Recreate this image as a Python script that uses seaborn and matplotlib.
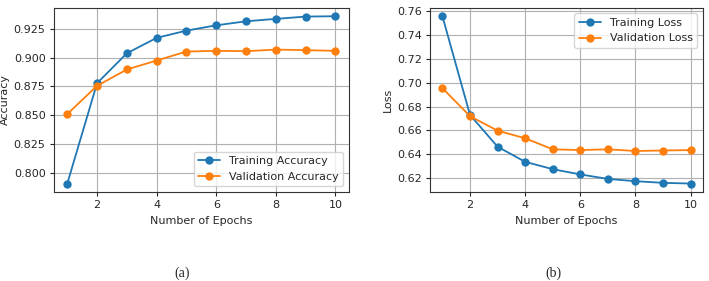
import pandas as pd
import numpy as np
import seaborn as sns
import matplotlib.pyplot as plt

epochs = [1, 2, 3, 4, 5, 6, 7, 8, 9, 10]
train_acc = [0.7905, 0.8778, 0.9038, 0.9172, 0.9235, 0.9281, 0.9316, 0.9337, 0.9357, 0.9360]
val_acc = [0.8509, 0.8755, 0.8897, 0.8975, 0.9053, 0.9059, 0.9056, 0.9070, 0.9065, 0.9059]
train_loss = [0.7560, 0.6730, 0.6462, 0.6335, 0.6273, 0.6229, 0.6191, 0.6172, 0.6158, 0.6152]
val_loss = [0.6955, 0.6719, 0.6597, 0.6533, 0.6440, 0.6434, 0.6440, 0.6426, 0.6430, 0.6434]

sns.set_theme(style="ticks", rc={"axes.grid": True, "grid.color": "#b0b0b0", "grid.linewidth": 0.8,
                                 "axes.edgecolor": "#333333", "axes.linewidth": 0.8})
plt.rcParams['font.family'] = ['DejaVu Sans']

acc = pd.DataFrame({"epoch": epochs * 2, "value": train_acc + val_acc,
                    "series": ["Training Accuracy"] * 10 + ["Validation Accuracy"] * 10})
loss = pd.DataFrame({"epoch": epochs * 2, "value": train_loss + val_loss,
                     "series": ["Training Loss"] * 10 + ["Validation Loss"] * 10})

fig = plt.figure(figsize=(7.09, 2.81), dpi=100)
ax1 = fig.add_axes([0.076, 0.317, 0.416, 0.655])
ax2 = fig.add_axes([0.6065, 0.317, 0.385, 0.655])

pal = ["#1f77b4", "#ff7f0e"]
for ax, df, ylab, loc in [(ax1, acc, "Accuracy", "lower right"), (ax2, loss, "Loss", "upper right")]:
    sns.lineplot(data=df, x="epoch", y="value", hue="series", palette=pal, marker="o",
                 markersize=6, markeredgewidth=0, linewidth=1.3, ax=ax)
    ax.set_xlabel("Number of Epochs", fontsize=8, labelpad=4)
    ax.set_ylabel(ylab, fontsize=8, labelpad=3)
    ax.tick_params(labelsize=8, length=3, width=0.8, pad=3)
    ax.set_xticks([2, 4, 6, 8, 10])
    ax.grid(True, color="#b0b0b0", linewidth=0.8)
    leg = ax.legend(loc=loc, fontsize=8, title=None, frameon=True, fancybox=True, framealpha=0.8,
                    edgecolor="#cccccc")

ax1.set_yticks([0.800, 0.825, 0.850, 0.875, 0.900, 0.925])
ax1.set_yticklabels(["0.800", "0.825", "0.850", "0.875", "0.900", "0.925"])
ax2.set_yticks([0.62, 0.64, 0.66, 0.68, 0.70, 0.72, 0.74, 0.76])

fig.text(182 / 709, 1 - 273 / 281, "(a)", fontsize=10, family="Liberation Serif", ha="center", va="center")
fig.text(553 / 709, 1 - 273 / 281, "(b)", fontsize=10, family="Liberation Serif", ha="center", va="center")

fig.savefig("out.png", dpi=100)
